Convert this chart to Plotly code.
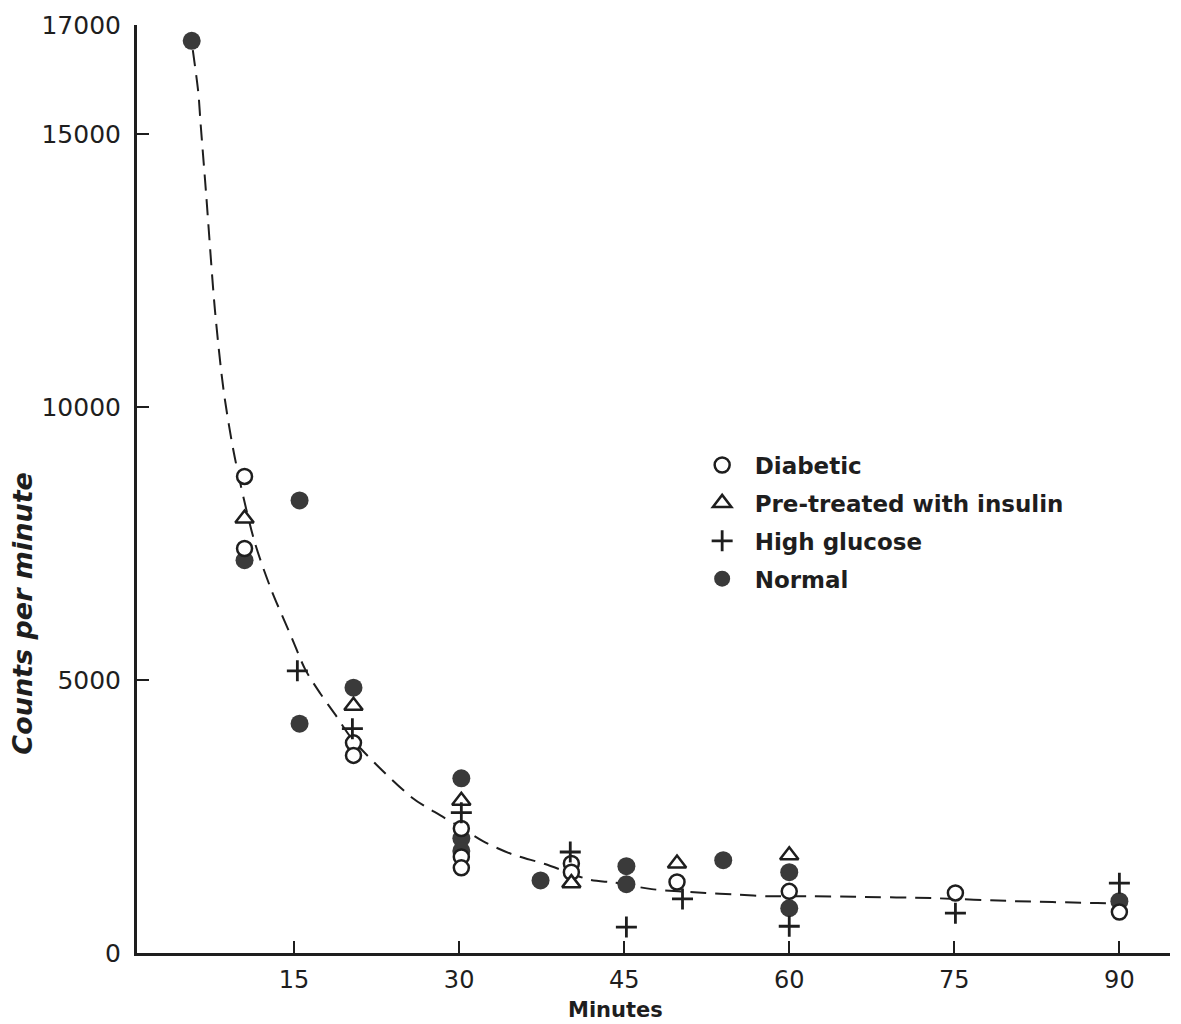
import plotly.graph_objects as go

# Fitted dashed curve
curve_x = [5.8, 6.3, 6.5, 7.0, 7.8, 8.6, 9.6, 11.4, 12.9, 14.8, 16.0, 17.4, 18.7, 20.4,
           25.7, 28.3, 30.0, 32.2, 34.8, 37.8, 41.9, 44.1, 47.5, 52.4, 55.3, 58.0,
           62.0, 66.0, 73.0, 80.5, 88.0, 90.0]
curve_y = [16540, 15760, 15210, 13930, 11800, 10300, 9090, 7540, 6670, 5770, 5200, 4750, 4380, 3890,
           2850, 2520, 2320, 2045, 1810, 1630, 1340, 1290, 1170, 1100, 1070, 1040,
           1040, 1030, 1005, 950, 915, 905]

# Diabetic (open circles)
diab_x = [10.5, 10.5, 20.4, 20.4, 30.2, 30.2, 30.2, 40.2, 40.2, 49.8, 60, 75.1, 90]
diab_y = [8730, 7410, 3850, 3620, 2280, 1760, 1560, 1640, 1480, 1300, 1130, 1100, 750]

# Pre-treated with insulin (open triangles)
pre_x = [10.5, 20.4, 30.2, 40.2, 49.8, 60]
pre_y = [7960, 4530, 2790, 1280, 1640, 1790]

# High glucose (+)
hg_x = [15.3, 20.3, 30.2, 40.1, 45.2, 50.3, 60, 75.1, 90]
hg_y = [5170, 4110, 2570, 1850, 475, 990, 490, 730, 1280]

# Normal (filled circles)
norm_x = [5.7, 10.5, 15.5, 15.5, 20.4, 30.2, 30.2, 30.2, 37.4, 45.2, 45.2, 54.0, 60, 60, 90]
norm_y = [16710, 7195, 8290, 4200, 4860, 3200, 2100, 1870, 1330, 1590, 1260, 1700, 1480, 820, 950]

x_ticks = [15, 30, 45, 60, 75, 90]
y_ticks = [0, 5000, 10000, 15000, 17000]

INK = "#1e1e1e"
fig = go.Figure()

fig.add_trace(go.Scatter(
    x=curve_x, y=curve_y, mode="lines", showlegend=False, hoverinfo="skip",
    line=dict(color=INK, width=2, dash="16px,9px", shape="spline", smoothing=0.8),
))
fig.add_trace(go.Scatter(
    x=norm_x, y=norm_y, mode="markers", name="Normal", legendrank=4,
    marker=dict(symbol="circle", size=18, color="#3a3a3a", line=dict(width=0)),
))
fig.add_trace(go.Scatter(
    x=diab_x, y=diab_y, mode="markers", name="Diabetic", legendrank=1,
    marker=dict(symbol="circle", size=15, color="white", line=dict(color=INK, width=2.5)),
))
fig.add_trace(go.Scatter(
    x=pre_x, y=pre_y, mode="markers", name="Pre-treated with insulin", legendrank=2,
    marker=dict(symbol="triangle-up", size=16, color="white", line=dict(color=INK, width=2.5)),
))
fig.add_trace(go.Scatter(
    x=hg_x, y=hg_y, mode="markers", name="High glucose", legendrank=3,
    marker=dict(symbol="cross-thin", size=15, color=INK, line=dict(color=INK, width=2.8)),
))

for i, tr in enumerate(fig.data):
    tr.legendgroup = f"g{i}"
    tr.cliponaxis = False

tick_font = dict(family="DejaVu Sans", size=24, color=INK)

fig.update_layout(
    width=1181, height=1024,
    margin=dict(l=137, r=11, t=22, b=71),
    paper_bgcolor="white", plot_bgcolor="white",
    showlegend=True,
    legend=dict(
        x=0.535, y=0.549, xanchor="left", yanchor="top",
        font=dict(family="DejaVu Sans", size=23, color=INK, weight="bold"),
        itemwidth=55, tracegroupgap=5, bgcolor="rgba(0,0,0,0)",
    ),
    xaxis=dict(
        range=[0.727, 94.6], tickvals=x_ticks, ticktext=[str(v) for v in x_ticks],
        ticks="inside", ticklen=12, tickwidth=2, tickcolor=INK,
        showline=True, linewidth=3, linecolor=INK, showgrid=False, zeroline=False,
        tickfont=tick_font, ticklabelstandoff=3,
    ),
    yaxis=dict(
        range=[0, 17000], tickvals=y_ticks, ticktext=[str(v) for v in y_ticks],
        ticks="inside", ticklen=12, tickwidth=2, tickcolor=INK,
        showline=True, linewidth=3, linecolor=INK, showgrid=False, zeroline=False,
        tickfont=dict(family="DejaVu Sans", size=25, color=INK), ticklabelstandoff=8,
    ),
    annotations=[
        dict(text="Minutes", x=0.463, y=-0.0615, xref="paper", yref="paper",
             xanchor="center", yanchor="middle", showarrow=False,
             font=dict(family="DejaVu Sans", size=21, color=INK, weight="bold")),
        dict(text="Counts per minute", x=-0.111, y=0.366, xref="paper", yref="paper",
             xanchor="center", yanchor="middle", showarrow=False, textangle=-90,
             font=dict(family="DejaVu Sans", size=27, color=INK, weight="bold", style="italic")),
    ],
)

fig.write_html("out.html")
